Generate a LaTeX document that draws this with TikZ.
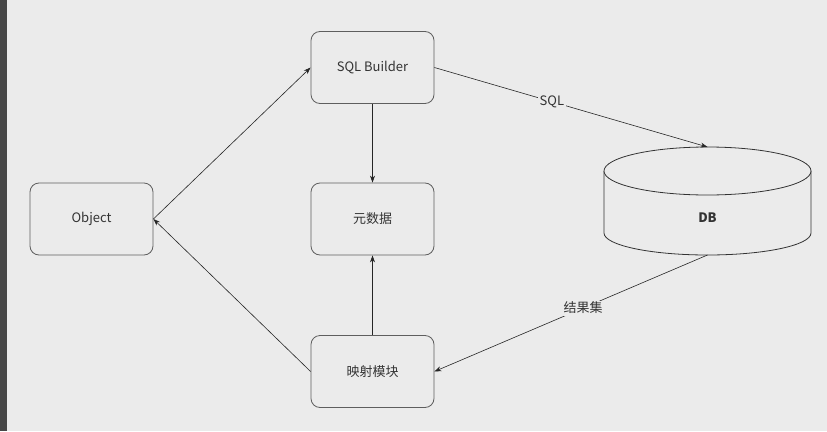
\documentclass[tikz,border=0pt]{standalone}
\usepackage{fontspec}
\setmainfont{Noto Sans CJK SC}
\usetikzlibrary{arrows.meta}
\definecolor{bg}{HTML}{EBEBEB}
\definecolor{boxline}{HTML}{5E5E5E}
\definecolor{txt}{HTML}{333333}
\definecolor{bar}{HTML}{474747}
\begin{document}
\begin{tikzpicture}[x=1pt,y=-1pt,
  box/.style={draw=boxline,line width=0.8pt,rounded corners=9pt,fill=bg,
    minimum width=123pt,minimum height=72pt,inner sep=0pt,
    font=\fontsize{13}{15}\selectfont,text=txt},
  conn/.style={draw=black!85,line width=0.6pt,-{Stealth[length=7pt,width=5pt]}},
  lbl/.style={fill=bg,inner sep=1.5pt,font=\fontsize{13}{15}\selectfont,text=txt}]
\fill[bg] (0,0) rectangle (827,431);
\fill[bar] (0,0) rectangle (6.5,431);
\useasboundingbox (0,0) rectangle (827,431);
\node[box] (obj) at (91.5,219) {Object};
\node[box] (sqlb) at (372.5,67.5) {SQL Builder};
\node[box] (meta) at (372.5,219) {元数据};
\node[box] (map) at (372.5,371.5) {映射模块};
% DB cylinder
\draw[draw=black!80,line width=0.8pt,fill=bg]
  (604,171) -- (604,233) arc[start angle=180,end angle=0,x radius=103.5,y radius=22]
  -- (811,171);
\draw[draw=black!80,line width=0.8pt,fill=bg] (707.5,171) ellipse[x radius=103.5,y radius=24];
\node[font=\fontsize{13}{15}\selectfont\bfseries,text=txt] (db) at (707.5,218) {DB};
\coordinate (dbtop) at (707.5,147);
\coordinate (dbbot) at (707.5,255);
% connectors
\draw[conn] (obj.east) -- (sqlb.west);
\draw[conn] (map.west) -- (obj.east);
\draw[conn] (sqlb.south) -- (meta.north);
\draw[conn] (map.north) -- (meta.south);
\draw[conn] (sqlb.east) -- node[lbl,pos=0.43] {SQL} (dbtop);
\draw[conn] (dbbot) -- node[lbl,pos=0.455] {结果集} (map.east);
\end{tikzpicture}
\end{document}
